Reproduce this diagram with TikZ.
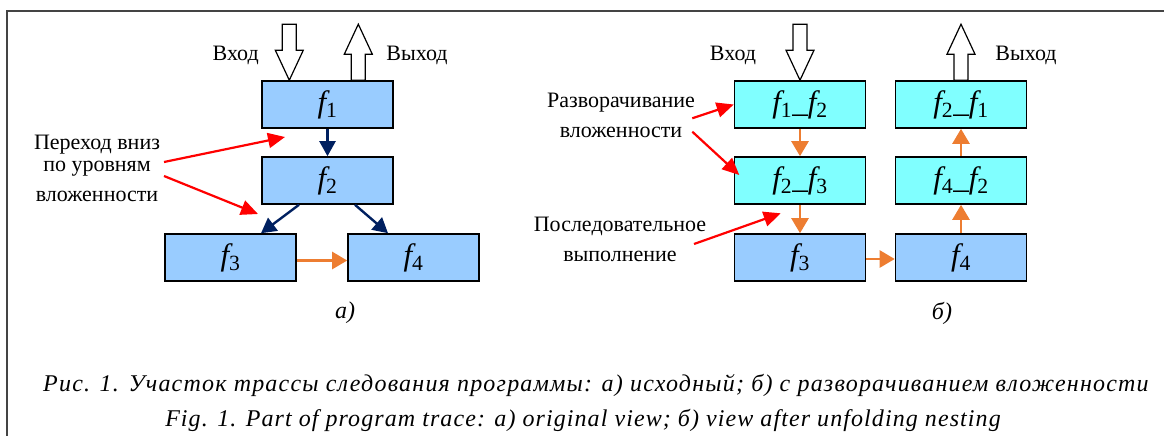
\documentclass[tikz,border=0pt]{standalone}
\usepackage{fontspec}
\setmainfont{Liberation Serif}
\usetikzlibrary{arrows.meta,calc}
\definecolor{boxblue}{HTML}{99CCFF}
\definecolor{boxcyan}{HTML}{80FFFF}
\definecolor{navyc}{HTML}{002060}
\definecolor{orng}{HTML}{ED7D31}
\definecolor{framec}{HTML}{444444}
\newcommand\ff[1]{{\itshape f}\textsubscript{#1}}
\begin{document}
\begin{tikzpicture}[x=1pt,y=-1pt,
  fbox/.style={draw=black, line width=1.6pt, minimum width=131pt, minimum height=47pt, inner sep=0pt, font=\fontsize{31}{31}\selectfont},
  bl/.style={fbox, fill=boxblue},
  cy/.style={fbox, fill=boxcyan},
  lbl/.style={font=\fontsize{22}{22}\selectfont, align=center, inner sep=0pt},
  redarr/.style={draw=red, line width=2.2pt, -{Triangle[length=17pt,width=15pt]}},
  navarr/.style={draw=navyc, line width=2.4pt, -{Triangle[length=15pt,width=16pt]}},
  orarr/.style={draw=orng, line width=2.6pt, -{Triangle[length=15pt,width=17pt]}},
  hollow/.style={draw=black, fill=white, line width=1.2pt, line join=miter},
  capt/.style={font=\fontsize{24}{24}\selectfont\itshape, inner sep=0pt},
  inarr/.pic={\draw[hollow] (0,0) -- (-14,-30) -- (-7,-30) -- (-7,-56) -- (7,-56) -- (7,-30) -- (14,-30) -- cycle;},
  outarr/.pic={\draw[hollow] (0,-56) -- (-14,-26) -- (-7,-26) -- (-7,0) -- (7,0) -- (7,-26) -- (14,-26) -- cycle;},
]
\useasboundingbox (0,0) rectangle (1164,436);
\draw[framec, line width=1.5pt] (1170,11) -- (7,11) -- (7,442);

% left diagram
\node[bl] (a1) at (327.5,104.5) {\ff{1}};
\node[bl] (a2) at (327.5,180.5) {\ff{2}};
\node[bl] (a3) at (230.5,257.5) {\ff{3}};
\node[bl] (a4) at (413.5,257.5) {\ff{4}};
\path (a1.north) ++(-38.2,0) pic {inarr};
\path (a1.north) ++(30.8,0) pic {outarr};
\node[lbl] (inL) at (235.7,55) {Вход};
\node[lbl] (outL) at (417,55) {Выход};
\node[lbl] (downL) at (97,168) {Переход вниз\\по уровням\\[8pt]вложенности};
\coordinate (d1s) at (164,162);
\coordinate (d1e) at (285,137);
\coordinate (d2s) at (164,176);
\coordinate (d2e) at (258,214);
\draw[redarr] (d1s) -- (d1e);
\draw[redarr] (d2s) -- (d2e);
\draw[navarr] (a1.south) -- (a2.north);
\draw[navarr] ([xshift=-28.5pt]a2.south) -- ([xshift=30.5pt]a3.north);
\draw[navarr] ([xshift=27.5pt]a2.south) -- ([xshift=-25.5pt]a4.north);
\draw[orarr] ([yshift=-3pt]a3.east) -- ([yshift=-3pt]a4.west);
\node[capt] (capA) at (345,313) {а)};

% right diagram
\node[cy] (g1) at (800,104.5) {\ff{1}\_\ff{2}};
\node[cy] (g2) at (800,180.5) {\ff{2}\_\ff{3}};
\node[bl] (g3) at (800,257.5) {\ff{3}};
\node[cy] (h1) at (961,104.5) {\ff{2}\_\ff{1}};
\node[cy] (h2) at (961,180.5) {\ff{4}\_\ff{2}};
\node[bl] (h3) at (961,257.5) {\ff{4}};
\path (g1.north) pic {inarr};
\path (h1.north) pic {outarr};
\node[lbl] (inR) at (733,55) {Вход};
\node[lbl] (outR) at (1026,55) {Выход};
\node[lbl, font=\fontsize{22}{30}\selectfont] (unfR) at (621,115) {Разворачивание\\вложенности};
\node[lbl, font=\fontsize{22}{30}\selectfont] (seqR) at (620,239) {Последовательное\\выполнение};
\coordinate (u1s) at (692.3,118.3);
\coordinate (u2s) at (692.3,131.7);
\coordinate (u2e) at (739.3,175);
\coordinate (s1s) at (694,244);
\coordinate (s1e) at (780.7,213.3);
\draw[redarr] (u1s) -- (g1.west);
\draw[redarr] (u2s) -- (u2e);
\draw[redarr] (s1s) -- (s1e);
\draw[orarr] (g1.south) -- (g2.north);
\draw[orarr] (g2.south) -- (g3.north);
\draw[orarr] ([yshift=-1.5pt]g3.east) -- ([yshift=-1.5pt]h3.west);
\draw[orarr] (h3.north) -- (h2.south);
\draw[orarr] (h2.north) -- (h1.south);
\node[capt] (capB) at (942,313) {б)};

% captions
\node[capt] (cap1) at (596,385) {\addfontfeature{LetterSpace=5}Рис. 1. Участок трассы следования программы: а) исходный; б) с разворачиванием вложенности};
\node[capt] (cap2) at (583,420) {\addfontfeature{LetterSpace=4.5}Fig. 1. Part of program trace: а) original view; б) view after unfolding nesting};
\end{tikzpicture}
\end{document}
